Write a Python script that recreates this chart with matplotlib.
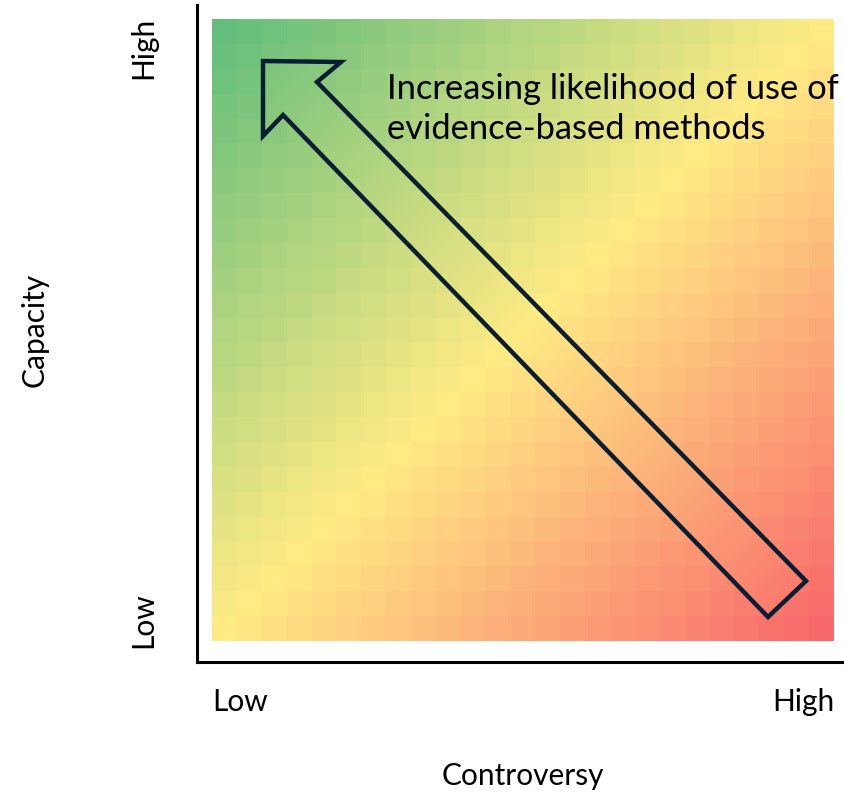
import numpy as np
import matplotlib
matplotlib.use('Agg')
import matplotlib.pyplot as plt
from matplotlib.colors import LinearSegmentedColormap
from matplotlib.patches import Polygon

plt.rcParams['font.family'] = ['Lato', 'DejaVu Sans']

# grid levels (25 x 25 cells)
controversy = [1, 2, 3, 4, 5, 6, 7, 8, 9, 10, 11, 12, 13,
               14, 15, 16, 17, 18, 19, 20, 21, 22, 23, 24, 25]
capacity = [1, 2, 3, 4, 5, 6, 7, 8, 9, 10, 11, 12, 13,
            14, 15, 16, 17, 18, 19, 20, 21, 22, 23, 24, 25]
x_labels = ['Low', 'High']
y_labels = ['Low', 'High']
note = 'Increasing likelihood of use of\nevidence-based methods'

# score: low controversy + high capacity -> green, opposite -> red
score = np.subtract.outer(capacity, controversy) * -1.0

cmap = LinearSegmentedColormap.from_list(
    'excel3', ['#63BE7B', '#FFEB84', '#F8696B'])

W, H = 844, 793
fig = plt.figure(figsize=(W / 100, H / 100), dpi=100)
ax = fig.add_axes([197 / W, 1 - 662 / H, (843 - 197) / W, (662 - 5) / H])

n = len(controversy)
cw = 622 / n  # cell size in pixels
ax.pcolormesh(np.arange(n + 1), np.arange(n + 1), score, cmap=cmap,
              vmin=-24, vmax=24, shading='flat')
ax.set_xlim(-15 / cw, (843 - 212) / cw)
ax.set_ylim(-21 / cw, (641 - 5) / cw)

for s in ['top', 'right']:
    ax.spines[s].set_visible(False)
for s in ['left', 'bottom']:
    ax.spines[s].set_linewidth(2.2)
ax.set_xticks([])
ax.set_yticks([])

# arrow outline (pixel estimates -> data units)
pts_px = [(263, 61), (341, 62), (317, 82), (806, 581), (768, 617),
          (283, 115), (263, 136)]
pts = [((px - 212) / cw, (641 - py) / cw) for px, py in pts_px]
arrow = Polygon(pts, closed=True, facecolor='none', edgecolor='#0A1E32',
                linewidth=3.2, joinstyle='miter', zorder=4)
ax.add_patch(arrow)

# smooth gradient fill inside arrow
gx = np.linspace(0, n, 300)
gy = np.linspace(0, n, 300)
GX, GY = np.meshgrid(gx, gy)
grad = (GX - GY)
im = ax.imshow(grad, extent=[0, n, 0, n], origin='lower', cmap=cmap,
               vmin=-n, vmax=n, zorder=3, interpolation='bilinear')
im.set_clip_path(arrow)

fs = 21.5
fig.text(143 / W, 1 - 48 / H, y_labels[1], rotation=90, ha='center',
         va='center', fontsize=fs)
fig.text(143 / W, 1 - 620 / H, y_labels[0], rotation=90, ha='center',
         va='center', fontsize=fs)
fig.text(240 / W, 1 - 702 / H, x_labels[0], ha='center', va='center',
         fontsize=fs)
fig.text(803 / W, 1 - 702 / H, x_labels[1], ha='center', va='center',
         fontsize=fs)
fig.text(523 / W, 1 - 776 / H, 'Controversy', ha='center', va='center',
         fontsize=fs)
fig.text(35 / W, 1 - 330 / H, 'Capacity', rotation=90, ha='center',
         va='center', fontsize=fs)
fig.text(387 / W, 1 - 109 / H, note, ha='left', va='center',
         fontsize=24.8, linespacing=1.32, zorder=5)

fig.savefig('out.png', dpi=100)
